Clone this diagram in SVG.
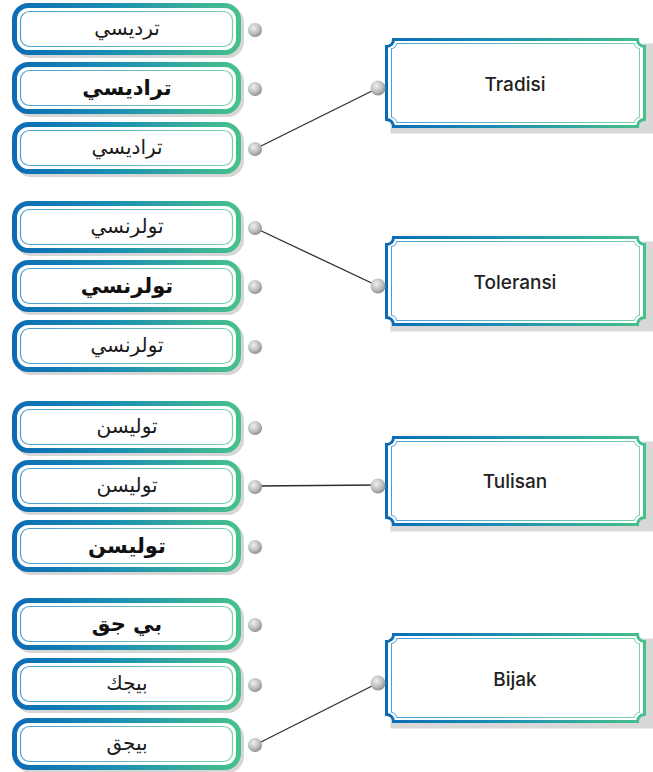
<svg xmlns="http://www.w3.org/2000/svg" width="653" height="772" viewBox="0 0 653 772">
<defs>
<linearGradient id="gOut" x1="0" y1="0" x2="1" y2="0">
<stop offset="0" stop-color="#0b6cb5"/>
<stop offset="0.45" stop-color="#1c8fb3"/>
<stop offset="1" stop-color="#48c08b"/>
</linearGradient>
<linearGradient id="gIn" x1="0" y1="0" x2="1" y2="0">
<stop offset="0" stop-color="#4a9fd8"/>
<stop offset="1" stop-color="#78d0a8"/>
</linearGradient>
<radialGradient id="gDot" cx="0.4" cy="0.35" r="0.7">
<stop offset="0" stop-color="#efefef"/>
<stop offset="0.6" stop-color="#bcbcbc"/>
<stop offset="1" stop-color="#858585"/>
</radialGradient>
<g id="lbox">
<rect x="17.5" y="-20.5" width="224" height="47" rx="14" fill="#dcdcdc" stroke="#d6d6d6" stroke-width="5"/>
<rect x="14.5" y="-23.5" width="224" height="47" rx="14" fill="#fff" stroke="url(#gOut)" stroke-width="5"/>
<rect x="20.5" y="-17.5" width="212" height="35" rx="9" fill="none" stroke="url(#gIn)" stroke-width="1.2"/>
<circle cx="255" cy="1" r="7" fill="url(#gDot)"/>
</g>
<g id="rbox">
<path d="M397.5,5.5 H655.5 V95.5 H390.5 V12.5 Z" fill="#d8d8d8"/>
<path d="M393.5,1.5 H637.5 A7,7 0 0 0 644.5,8.5 V81.5 A7,7 0 0 0 637.5,88.5 H393.5 A7,7 0 0 0 386.5,81.5 V8.5 A7,7 0 0 0 393.5,1.5 Z" fill="#fff" stroke="url(#gOut)" stroke-width="3"/>
<path d="M396.5,5.5 H634.5 A5,5 0 0 0 639.5,10.5 V79.5 A5,5 0 0 0 634.5,84.5 H396.5 A5,5 0 0 0 391.5,79.5 V10.5 A5,5 0 0 0 396.5,5.5 Z" fill="none" stroke="url(#gIn)" stroke-width="1"/>
<circle cx="378" cy="50" r="7.5" fill="url(#gDot)"/>
</g>
</defs>
<style>
.ar{font-family:"DejaVu Sans","Noto Sans",sans-serif;font-size:20px;fill:#1a1a1a;text-anchor:middle;}
.arb{font-family:"DejaVu Sans","Noto Sans",sans-serif;font-size:21px;font-weight:bold;fill:#111;text-anchor:middle;}
.lat{font-family:"Inter","Liberation Sans",sans-serif;font-size:19px;font-weight:500;fill:#222;text-anchor:middle;}
.con{stroke:#2e2e2e;stroke-width:1.3;fill:none;}
</style>
<rect width="653" height="772" fill="#fff"/>
<g id="connectors">
<line class="con" x1="255" y1="149" x2="378" y2="88"/>
<line class="con" x1="255" y1="228" x2="378" y2="286"/>
<line class="con" x1="255" y1="486" x2="378" y2="485"/>
<line class="con" x1="255" y1="745" x2="378" y2="683"/>
</g>
<g id="t1"><use href="#lbox" transform="translate(0,29)"/><text class="ar" x="127" y="35" direction="rtl">ترديسي</text></g>
<g id="t2"><use href="#lbox" transform="translate(0,88)"/><text class="arb" x="127" y="95" direction="rtl">تراديسي</text></g>
<g id="t3"><use href="#lbox" transform="translate(0,148)"/><text class="ar" x="127" y="154" direction="rtl">تراديسي</text></g>
<g id="t4"><use href="#lbox" transform="translate(0,227)"/><text class="ar" x="127" y="233" direction="rtl">تولرنسي</text></g>
<g id="t5"><use href="#lbox" transform="translate(0,286)"/><text class="arb" x="127" y="293" direction="rtl">تولرنسي</text></g>
<g id="t6"><use href="#lbox" transform="translate(0,346)"/><text class="ar" x="127" y="352" direction="rtl">تولرنسي</text></g>
<g id="t7"><use href="#lbox" transform="translate(0,427)"/><text class="ar" x="127" y="433" direction="rtl">توليسن</text></g>
<g id="t8"><use href="#lbox" transform="translate(0,486)"/><text class="ar" x="127" y="492" direction="rtl">توليسن</text></g>
<g id="t9"><use href="#lbox" transform="translate(0,546)"/><text class="arb" x="127" y="553" direction="rtl">توليسن</text></g>
<g id="t10"><use href="#lbox" transform="translate(0,624)"/><text class="arb" x="127" y="631" direction="rtl">بي جق</text></g>
<g id="t11"><use href="#lbox" transform="translate(0,684)"/><text class="ar" x="127" y="690" direction="rtl">بيجك</text></g>
<g id="t12"><use href="#lbox" transform="translate(0,744)"/><text class="ar" x="127" y="750" direction="rtl">بيجق</text></g>
<g id="tradisi"><use href="#rbox" transform="translate(0,38)"/><text class="lat" x="515" y="91">Tradisi</text></g>
<g id="toleransi"><use href="#rbox" transform="translate(0,236)"/><text class="lat" x="515" y="289">Toleransi</text></g>
<g id="tulisan"><use href="#rbox" transform="translate(0,436)"/><text class="lat" x="515" y="488">Tulisan</text></g>
<g id="bijak"><use href="#rbox" transform="translate(0,633)"/><text class="lat" x="515" y="686">Bijak</text></g>
</svg>
